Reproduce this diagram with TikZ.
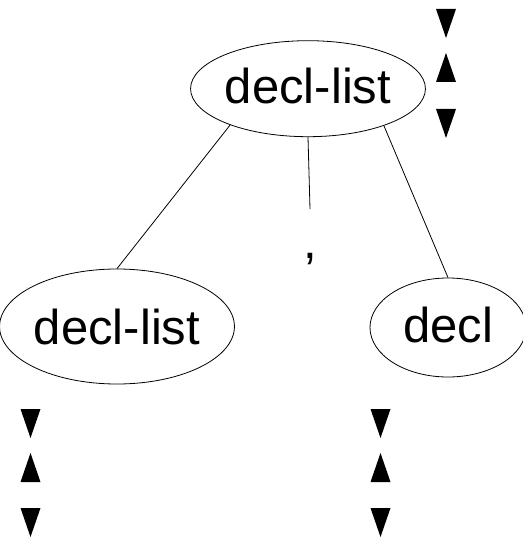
\documentclass[tikz,border=0pt]{standalone}
\usepackage{fontspec}
\setmainfont{Liberation Sans}
\usetikzlibrary{shapes.geometric}
\tikzset{
  nt/.style={ellipse, draw, line width=0.8pt, inner sep=0pt, font=\fontsize{49}{49}\selectfont},
  lbl/.style={inner sep=0pt, font=\fontsize{49}{49}\selectfont},
  edge/.style={line width=0.8pt},
  tri/.style={fill=black, draw=none}
}
\newcommand{\tridown}[3]{\fill[tri] (#1-10,#2) -- (#1+10,#2) -- (#1,#3) -- cycle;}
\newcommand{\triup}[3]{\fill[tri] (#1-10,#3) -- (#1+10,#3) -- (#1,#2) -- cycle;}
\begin{document}
\begin{tikzpicture}[x=1pt,y=-1pt]
\useasboundingbox (0,0) rectangle (522,537);
\node[nt, minimum width=206pt, minimum height=96pt] (top) at (308,88.7) {\raisebox{6pt}{decl-list}};
\node[nt, minimum width=209pt, minimum height=115pt] (left) at (117,326.5) {decl-list};
\node[nt, minimum width=156pt, minimum height=99pt] (right) at (448,327.5) {\raisebox{6pt}{decl}};
\node[lbl, anchor=base] (comma) at (310,258) {,};
\coordinate (ctop) at (310,209);
\draw[edge] (top.205.8) -- (left.90);
\draw[edge] (top.270) -- (ctop);
\draw[edge] (top.334.4) -- (right.90);
% top right triangles
\tridown{446}{9}{38}
\triup{446}{53}{82}
\tridown{446}{109}{138}
% bottom left
\tridown{30.5}{409}{438}
\triup{30.5}{453}{482}
\tridown{30.5}{508}{537}
% bottom right
\tridown{380.5}{409}{438}
\triup{380.5}{453}{482}
\tridown{380.5}{508}{537}
\end{tikzpicture}
\end{document}
